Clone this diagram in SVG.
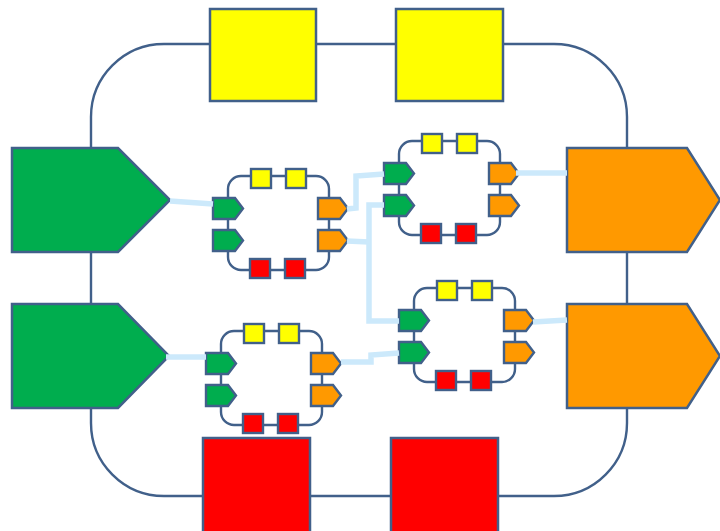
<svg xmlns="http://www.w3.org/2000/svg" xmlns:xlink="http://www.w3.org/1999/xlink" width="720" height="531" viewBox="0 0 720 531">
<style>
.ring{fill:none;stroke:#41608a;stroke-width:2.4}
.big{stroke:#41608a;stroke-width:2.5;stroke-linejoin:miter}
.sm{stroke:#41608a;stroke-width:2.4}
.g{fill:#00ad4e}
.o{fill:#ff9900}
.y{fill:#ffff00}
.r{fill:#ff0000}
.link{fill:none;stroke:#cce9fb;stroke-width:5.5;stroke-linejoin:miter}
</style>
<defs>
<polygon id="port" points="0,0 22,0 30,10.5 22,21 0,21"/>
<g id="module">
<rect class="ring" x="0" y="0" width="101" height="94" rx="13"/>
<rect class="sm y" x="23" y="-7" width="20" height="19"/>
<rect class="sm y" x="58" y="-7" width="20" height="19"/>
<rect class="sm r" x="22" y="83" width="20" height="19"/>
<rect class="sm r" x="57" y="83" width="20" height="19"/>
<use xlink:href="#port" class="sm g" x="-15" y="22"/>
<use xlink:href="#port" class="sm g" x="-15" y="54"/>
<use xlink:href="#port" class="sm o" x="90" y="22"/>
<use xlink:href="#port" class="sm o" x="90" y="54"/>
</g>
</defs>
<rect id="frame" class="ring" x="91" y="44" width="536" height="452" rx="73"/>
<g id="in-top"><polygon class="big g" points="12,148 118,148 170,200 118,252 12,252"/></g>
<g id="in-bottom"><polygon class="big g" points="12,304 118,304 169,356 118,408 12,408"/></g>
<g id="out-top"><polygon class="big o" points="567,148 687,148 720,200 687,252 567,252"/></g>
<g id="out-bottom"><polygon class="big o" points="567,304 687,304 720,356 687,408 567,408"/></g>
<g id="top-left"><rect class="big y" x="210" y="9" width="106" height="92"/></g>
<g id="top-right"><rect class="big y" x="396" y="9" width="107" height="92"/></g>
<g id="bottom-left"><rect class="big r" x="203" y="438" width="107" height="100"/></g>
<g id="bottom-right"><rect class="big r" x="391" y="438" width="107" height="100"/></g>
<g id="module-a"><use xlink:href="#module" x="228" y="176"/></g>
<g id="module-b"><use xlink:href="#module" x="399" y="141"/></g>
<g id="module-c"><use xlink:href="#module" x="414" y="288"/></g>
<g id="module-d"><use xlink:href="#module" x="221" y="331"/></g>
<g id="connectors">
<path class="link" d="M170,201 L213,204"/>
<path class="link" d="M347,209 L356,208 L356,176 L384,174"/>
<path class="link" d="M347,241 L369,242"/>
<path class="link" d="M384,205 L369,205 L369,321 L399,321"/>
<path class="link" d="M166,357 L206,357"/>
<path class="link" d="M341,362 L371,362 L371,355 L399,353"/>
<path class="link" d="M516,173 L567,173"/>
<path class="link" d="M533,322 L567,320"/>
</g>
</svg>
